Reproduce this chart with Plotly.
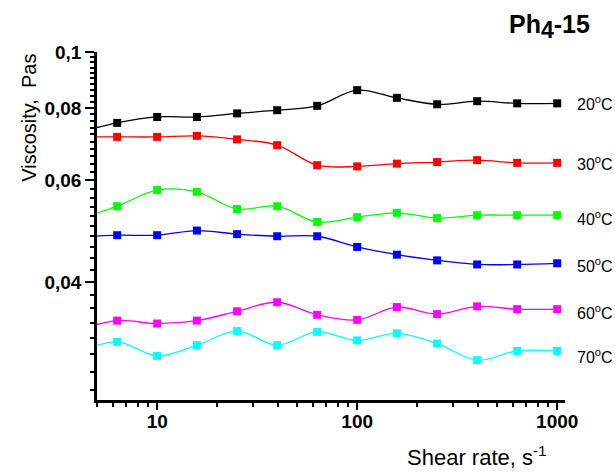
import math
import plotly.graph_objects as go

# ---- data ----
shear_rate = [3.98, 6.31, 10, 15.8, 25.1, 39.8, 63.1, 100, 158, 251, 398, 631, 1000]

visc_20 = [0.0725, 0.0754, 0.0772, 0.0772, 0.0783, 0.0793, 0.0807, 0.0859, 0.0833, 0.0812, 0.0822, 0.0815, 0.0815]
visc_30 = [0.0713, 0.0713, 0.0713, 0.0716, 0.0706, 0.0690, 0.0637, 0.0634, 0.0641, 0.0645, 0.0650, 0.0643, 0.0643]
visc_40 = [0.0513, 0.0541, 0.0577, 0.0573, 0.0535, 0.0541, 0.0508, 0.0518, 0.0527, 0.0516, 0.0522, 0.0522, 0.0522]
visc_50 = [0.0478, 0.0482, 0.0482, 0.0491, 0.0484, 0.0480, 0.0480, 0.0460, 0.0446, 0.0436, 0.0429, 0.0429, 0.0431]
visc_60 = [0.0330, 0.0343, 0.0339, 0.0343, 0.0356, 0.0369, 0.0351, 0.0344, 0.0362, 0.0352, 0.0363, 0.0359, 0.0359]
visc_70 = [0.0302, 0.0315, 0.0298, 0.0311, 0.0329, 0.0311, 0.0328, 0.0317, 0.0326, 0.0313, 0.0293, 0.0304, 0.0304]

series_labels = ["20<sup>o</sup>C", "30<sup>o</sup>C", "40<sup>o</sup>C",
                 "50<sup>o</sup>C", "60<sup>o</sup>C", "70<sup>o</sup>C"]
series_values = [visc_20, visc_30, visc_40, visc_50, visc_60, visc_70]
series_colors = ["#000000", "#FF0000", "#00FF00", "#0000FF", "#FF00FF", "#00FFFF"]

y_tick_vals = [0.04, 0.06, 0.08, 0.1]
y_tick_text = ["0,04", "0,06", "0,08", "0,1"]
x_tick_vals = [10, 100, 1000]
x_tick_text = ["10", "100", "1000"]

FONT = "Arial, Liberation Sans, sans-serif"

fig = go.Figure()
for vals, col, name in zip(series_values, series_colors, series_labels):
    fig.add_trace(go.Scatter(
        x=shear_rate, y=vals, mode="lines+markers", name=name,
        line=dict(color=col, width=1.3, shape="spline", smoothing=1.0),
        marker=dict(symbol="square", size=8, color=col, line=dict(width=0)),
        cliponaxis=True, showlegend=False,
    ))

# minor ticks
y_minor = [round(0.026 + 0.002 * i, 3) for i in range(37)]
y_minor = [v for v in y_minor if v not in y_tick_vals and v < 0.1]
x_minor = [m * 10 ** e for e in range(0, 3) for m in range(2, 10)]
x_minor = [v for v in x_minor if v >= 5]

fig.update_xaxes(
    type="log", range=[math.log10(5), math.log10(1094)],
    tickmode="array", tickvals=x_tick_vals, ticktext=x_tick_text,
    ticks="outside", ticklen=7, tickwidth=2, tickcolor="black",
    ticklabelstandoff=-5,
    showline=True, linecolor="black", linewidth=2.5,
    showgrid=False, zeroline=False,
    tickfont=dict(family=FONT, size=19, color="black", weight="bold"),
    minor=dict(tickmode="array", tickvals=x_minor, ticks="outside",
               ticklen=4, tickwidth=2, tickcolor="black", showgrid=False),
)
fig.update_yaxes(
    type="log", range=[math.log10(0.025), -1],
    tickmode="array", tickvals=y_tick_vals, ticktext=y_tick_text,
    ticks="outside", ticklen=9, tickwidth=2, tickcolor="black",
    showline=True, linecolor="black", linewidth=2.5,
    showgrid=False, zeroline=False,
    tickfont=dict(family=FONT, size=19, color="black", weight="bold"),
    minor=dict(tickmode="array", tickvals=y_minor, ticks="outside",
               ticklen=4, tickwidth=2, tickcolor="black", showgrid=False),
)

annotations = []
# temperature labels at the right end of each curve
label_yshift = [0, 0, -3, -2, -3, -5]
for vals, name, ys in zip(series_values, series_labels, label_yshift):
    annotations.append(dict(
        x=math.log10(shear_rate[-1]), y=math.log10(vals[-1]), xref="x", yref="y",
        text=name, showarrow=False, xanchor="left", yanchor="middle",
        xshift=18, yshift=ys,
        font=dict(family=FONT, size=16, color="black"),
    ))
# axis titles
annotations.append(dict(
    x=-0.146, y=0.81, xref="paper", yref="paper", text="Viscosity,  Pas",
    textangle=-90, showarrow=False, xanchor="center", yanchor="middle",
    font=dict(family=FONT, size=20, color="black"),
))
annotations.append(dict(
    x=0.966, y=-0.16, xref="paper", yref="paper",
    text="Shear rate, s<sup>-1</sup>",
    showarrow=False, xanchor="right", yanchor="middle",
    font=dict(family=FONT, size=22, color="black"),
))
# chart title
annotations.append(dict(
    x=1.058, y=1.072, xref="paper", yref="paper",
    text="Ph<sub><span style='font-size:23px'>4</span></sub>-15",
    showarrow=False, xanchor="right", yanchor="middle",
    font=dict(family=FONT, size=25, color="black", weight="bold"),
))

fig.update_layout(
    width=615, height=472,
    margin=dict(l=97, r=50, t=52, b=72),
    paper_bgcolor="white", plot_bgcolor="white",
    annotations=annotations,
    showlegend=False,
)

fig.write_html("out.html")
